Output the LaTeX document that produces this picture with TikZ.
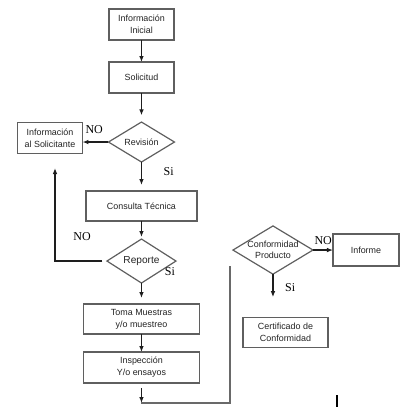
\documentclass[tikz,border=0pt]{standalone}
\usepackage{fontspec}
\setmainfont{Liberation Serif}
\setsansfont{Liberation Sans}
\usetikzlibrary{arrows.meta,shapes.geometric,positioning,calc}
\definecolor{boxgray} {RGB}{95,95,95}
\definecolor{txtgray} {RGB}{35,35,35}
\definecolor{arrgray} {RGB}{30,30,30}
\definecolor{linegray}{RGB}{105,105,105}
\tikzset{
  stepbox/.style={draw=boxgray, line width=0.9pt, align=center,
                  minimum width=#1, minimum height=23.25pt, inner sep=1pt,
                  outer sep=0pt, text=txtgray,
                  font=\sffamily\fontsize{6.7}{9}\selectfont},
  stepbox/.default=48.75pt,
  decbox/.style ={draw=boxgray, line width=0.9pt, diamond, aspect=1.65,
                  align=center, inner sep=0pt, outer sep=0pt, text=txtgray,
                  font=\sffamily\fontsize{6.7}{8}\selectfont},
  lbl/.style    ={font=\fontsize{9}{10}\selectfont, inner sep=1pt},
  arr/.style    ={-{Latex[length=4.5pt,width=3.5pt]}, line width=0.9pt,
                  draw=arrgray},
  ln/.style     ={line width=0.9pt, draw=linegray},
}
\begin{document}
\begin{tikzpicture}[node distance=16.5pt]
  \useasboundingbox (0,0) rectangle (303pt,-313.5pt);
  \node[stepbox] (ini) at (106.1pt,-18.4pt) {Información\\Inicial};
  \node[stepbox, below=16.5pt of ini] (sol) {Solicitud};
  \node[decbox, minimum width=49.5pt, minimum height=30pt,
        below=21.75pt of sol] (rev) {Revisión};
  \node[stepbox, left=19.5pt of rev, yshift=3pt] (isol)
        {Información\\al Solicitante};
  \node[stepbox=83.25pt, minimum height=22.5pt, below=21.75pt of rev]
        (cons) {Consulta Técnica};
  \node[decbox, minimum width=51.75pt, minimum height=33pt,
        font=\sffamily\fontsize{7.6}{9}\selectfont,
        below=13.5pt of cons] (rep) {Reporte};
  \node[stepbox=87pt, minimum height=22.5pt, below=15.75pt of rep] (toma)
        {Toma Muestras\\y/o muestreo};
  \node[stepbox=87pt, below=13.5pt of toma] (insp) {Inspección\\Y/o ensayos};

  \node[decbox, minimum width=60pt, minimum height=36pt,
        right=42.75pt of rep, yshift=8.25pt] (conf) {Conformidad\\Producto};
  \node[stepbox=49.5pt, minimum height=24pt, right=15pt of conf] (inf)
        {Informe};
  \node[stepbox=63.75pt, minimum height=22.5pt, below=32.25pt of conf,
        xshift=9.4pt] (cert) {Certificado de\\Conformidad};

  \node[lbl, above left=5pt and 3pt of rev.west] (no1) {NO};
  \node[lbl, below right=3pt and 15.5pt of rev.south] (si1) {Si};
  \node[lbl, above left=14pt and 11pt of rep.west] (no2) {NO};
  \node[lbl, right=3.5pt of rep.south east] (si2) {Si};
  \node[lbl, above right=3pt and 0pt of conf.east] (no3) {NO};
  \node[lbl, below right=6pt and 8pt of conf.south] (si3) {Si};

  \coordinate[below=15pt of insp] (jn);
  \coordinate (jr) at (172.5pt,-199.5pt);
  \coordinate (lp) at (41.25pt,-126pt);

  \draw[arr](ini)--(sol);\draw[arr, shorten >=5pt](sol)--(rev);
  \draw[arr](rev.west)--(rev.west -| isol.east);
  \draw[arr, shorten >=4.5pt](rev)--(cons);
  \draw[arr, shorten >=1.5pt](cons)--(rep);
  \draw[arr, shorten >=4.5pt](rep)--(toma);\draw[arr](toma)--(insp);
  \draw[arr, shorten <=3.75pt](insp)--(jn);
  \draw[ln](jn)-|(jr);
  \draw[arr, shorten <=3.5pt](rep.west)-|(lp);
  \draw[arr](conf)--(inf);
  \draw[arr, shorten >=15pt](conf.south)--(conf.south |- cert.north);
  \draw[line width=1.3pt] (252.75pt,-296.25pt) -- ++(0,-9pt);
\end{tikzpicture}
\end{document}
